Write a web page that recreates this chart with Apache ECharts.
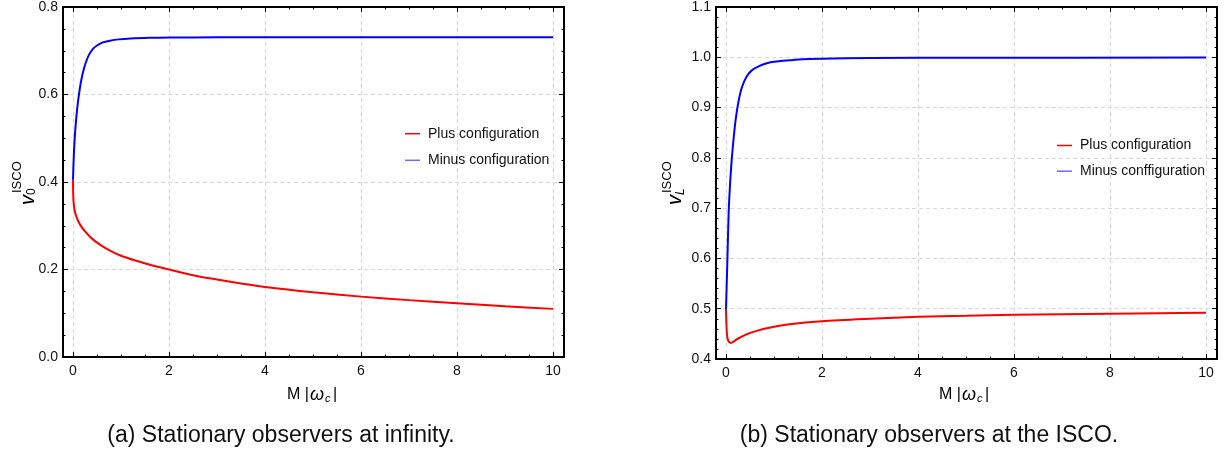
<!DOCTYPE html>
<html>
<head>
<meta charset="utf-8">
<script src="https://cdn.jsdelivr.net/npm/echarts@6/dist/echarts.min.js"></script>
<style>
  html, body { margin: 0; padding: 0; background: #fff; }
  #chart { width: 1230px; height: 454px; }
</style>
</head>
<body>
<div id="chart"></div>
<script>
const FONT = '"Liberation Sans", Arial, Helvetica, sans-serif';

// Panel (a): ISCO speed measured by stationary observers at infinity, vs M|ω_c|
const plusInfinity = [
  [0, 0.405], [0.004, 0.372], [0.015, 0.35], [0.04, 0.332], [0.08, 0.318],
  [0.15, 0.302], [0.25, 0.287], [0.4, 0.27], [0.6, 0.254], [0.8, 0.2415],
  [1.0, 0.2315], [1.3, 0.2205], [1.6, 0.211], [2.0, 0.200], [2.5, 0.187],
  [3.0, 0.177], [3.5, 0.168], [4.0, 0.160], [5.0, 0.148], [6.0, 0.138],
  [7.0, 0.130], [8.0, 0.123], [9.0, 0.116], [10.0, 0.110]
];
const minusInfinity = [
  [0, 0.405], [0.01, 0.44], [0.025, 0.48], [0.045, 0.515], [0.07, 0.548],
  [0.1, 0.58], [0.14, 0.612], [0.18, 0.637], [0.23, 0.66], [0.29, 0.68],
  [0.35, 0.694], [0.42, 0.705], [0.5, 0.712], [0.62, 0.719], [0.77, 0.723],
  [0.95, 0.726], [1.2, 0.728], [1.6, 0.7295], [2.0, 0.7302], [3.0, 0.7307],
  [5.0, 0.731], [7.5, 0.731], [10.0, 0.731]
];

// Panel (b): ISCO speed measured by stationary observers at the ISCO
const plusIsco = [
  [0, 0.498], [0.008, 0.47], [0.02, 0.45], [0.04, 0.438], [0.07, 0.433],
  [0.1, 0.432], [0.15, 0.434], [0.22, 0.439], [0.3, 0.443], [0.45, 0.45],
  [0.64, 0.456], [0.9, 0.462], [1.33, 0.469], [2.0, 0.475], [3.0, 0.48],
  [4.0, 0.484], [5.0, 0.486], [6.0, 0.488], [7.0, 0.489], [8.0, 0.49],
  [9.0, 0.491], [10.0, 0.492]
];
const minusIsco = [
  [0, 0.498], [0.015, 0.55], [0.03, 0.6], [0.055, 0.69], [0.08, 0.74],
  [0.11, 0.785], [0.15, 0.83], [0.2, 0.875], [0.26, 0.912], [0.33, 0.94],
  [0.43, 0.962], [0.55, 0.975], [0.7, 0.983], [0.85, 0.988], [1.0, 0.991],
  [1.33, 0.994], [1.6, 0.996], [2.0, 0.997], [3.0, 0.9985], [5.0, 0.999],
  [10.0, 0.9995]
];

const namesA = ['Plus configuration', 'Minus configuration'];
const namesB = ['Plus configuration', 'Minus conffiguration'];
const captions = ['(a) Stationary observers at infinity.', '(b) Stationary observers at the ISCO.'];

const RED = '#ff0000';
const BLUE = '#0000ff';
const GRID_LINE = { show: true, lineStyle: { color: '#d9d9d9', width: 1, type: [4, 3] } };
const FRAME = { show: true, onZero: false, lineStyle: { color: '#000', width: 2 } };

// frame axis along x: only draws the box edge
function frameX(gridIndex, position) {
  return {
    gridIndex, type: 'value', position, min: 0, max: 1,
    axisLine: FRAME, axisTick: { show: false }, axisLabel: { show: false },
    splitLine: { show: false }
  };
}
// frame axis along y: box edge, inside ticks, optional labels + grid lines
function frameY(gridIndex, position, min, max, interval, minorSplit, withLabels) {
  return {
    gridIndex, type: 'value', position, min, max, interval,
    axisLine: FRAME,
    axisTick: { show: true, inside: true, length: 5, lineStyle: { color: '#000', width: 1 } },
    minorTick: { show: true, splitNumber: minorSplit, length: 2.5, lineStyle: { color: '#000', width: 1 } },
    axisLabel: {
      show: withLabels, margin: 5, color: '#111', fontFamily: FONT, fontSize: 14,
      formatter: v => v.toFixed(1)
    },
    splitLine: withLabels ? GRID_LINE : { show: false },
    minorSplitLine: { show: false }
  };
}
// data axis along x: inside ticks at 0..10, labels + vertical grid lines at the bottom
function dataX(gridIndex, position, withLabels) {
  return {
    gridIndex, type: 'value', position, min: 0, max: 10, interval: 2,
    axisLine: { show: false, onZero: false },
    axisTick: { show: true, inside: true, length: 5, lineStyle: { color: '#000', width: 1 } },
    minorTick: { show: true, splitNumber: 4, length: 2.5, lineStyle: { color: '#000', width: 1 } },
    axisLabel: { show: withLabels, margin: 7, color: '#111', fontFamily: FONT, fontSize: 14 },
    splitLine: withLabels ? GRID_LINE : { show: false }
  };
}
function dataY(gridIndex, min, max) {
  return { gridIndex, type: 'value', min, max, show: false };
}

function lineSeries(name, xi, yi, data, color, z) {
  return {
    name, type: 'line', xAxisIndex: xi, yAxisIndex: yi, data,
    symbol: 'none', showSymbol: false, smooth: 0.3,
    lineStyle: { color, width: 2 }, itemStyle: { color }, z,
    animation: false
  };
}

function legendBlock(names, left, top, gap) {
  return {
    orient: 'vertical', left, top, padding: 0,
    itemWidth: 15, itemHeight: 1.5, itemGap: gap,
    icon: 'rect', selectedMode: false,
    textStyle: { fontFamily: FONT, fontSize: 14, color: '#111', lineHeight: 14, padding: [0, 0, 0, 3] },
    data: [
      { name: names[0], itemStyle: { color: RED } },
      { name: names[1], itemStyle: { color: '#6b6bff' } }
    ]
  };
}

// rotated y-axis title: v with a superscript and a subscript
function yTitle(cx, baseY, sub, supOffset, subOffset) {
  const base = { fill: '#000', align: 'left', textAlign: 'left', verticalAlign: 'middle', textVerticalAlign: 'middle' };
  return {
    type: 'group', x: cx, y: baseY, rotation: Math.PI / 2,
    children: [
      { type: 'text', x: 0, y: 0, style: Object.assign({ text: 'v', font: 'italic 20px ' + FONT }, base) },
      { type: 'text', x: 12, y: supOffset, style: Object.assign({ text: 'ISCO', font: '13px ' + FONT }, base) },
      { type: 'text', x: 10, y: subOffset, style: Object.assign({ text: sub, font: (sub === 'L' ? 'italic ' : '') + '12px ' + FONT }, base) }
    ]
  };
}

// x-axis title: M |ω_c|
function xTitle(left, cy) {
  const base = { fill: '#000', align: 'left', textAlign: 'left', verticalAlign: 'middle', textVerticalAlign: 'middle' };
  return {
    type: 'group', x: left, y: cy,
    children: [
      { type: 'text', x: 0, y: 0, style: Object.assign({ text: 'M |', font: '16px ' + FONT }, base) },
      { type: 'text', x: 23, y: 0, style: Object.assign({ text: 'ω', font: 'italic 18px ' + FONT }, base) },
      { type: 'text', x: 38, y: 4, style: Object.assign({ text: 'c', font: 'italic 11px ' + FONT }, base) },
      { type: 'text', x: 46, y: 0, style: Object.assign({ text: '|', font: '16px ' + FONT }, base) }
    ]
  };
}

function caption(text, cx, cy) {
  return {
    type: 'text', x: cx, y: cy,
    style: { text, font: '23px ' + FONT, fill: '#111',
      align: 'center', textAlign: 'center', verticalAlign: 'middle', textVerticalAlign: 'middle' }
  };
}

const chart = echarts.init(document.getElementById('chart'), null, { renderer: 'canvas' });
chart.setOption({
  animation: false,
  backgroundColor: '#fff',
  grid: [
    { left: 63, top: 7, width: 501, height: 350 },   // (a) frame
    { left: 73, top: 7, width: 480, height: 350 },   // (a) data
    { left: 716, top: 7, width: 501, height: 352 },  // (b) frame
    { left: 726, top: 7, width: 480, height: 352 }   // (b) data
  ],
  xAxis: [
    frameX(0, 'bottom'), frameX(0, 'top'),
    dataX(1, 'bottom', true), dataX(1, 'top', false),
    frameX(2, 'bottom'), frameX(2, 'top'),
    dataX(3, 'bottom', true), dataX(3, 'top', false)
  ],
  yAxis: [
    frameY(0, 'left', 0, 0.8, 0.2, 4, true), frameY(0, 'right', 0, 0.8, 0.2, 4, false),
    dataY(1, 0, 0.8),
    frameY(2, 'left', 0.4, 1.1, 0.1, 5, true), frameY(2, 'right', 0.4, 1.1, 0.1, 5, false),
    dataY(3, 0.4, 1.1)
  ],
  legend: [
    legendBlock(namesA, 405, 126.7, 12.6),
    legendBlock(namesB, 1057, 138.5, 11.7)
  ],
  series: [
    lineSeries(namesA[0], 2, 2, plusInfinity, RED, 3),
    lineSeries(namesA[1], 2, 2, minusInfinity, BLUE, 4),
    lineSeries(namesB[0], 6, 5, plusIsco, RED, 4),
    lineSeries(namesB[1], 6, 5, minusIsco, BLUE, 3)
  ],
  graphic: [
    yTitle(28, 205, '0', -11, 4),
    yTitle(675, 205, 'L', -8, 6),
    xTitle(287, 395),
    xTitle(939, 395),
    caption(captions[0], 281, 436),
    caption(captions[1], 929, 436)
  ]
});
</script>
</body>
</html>
